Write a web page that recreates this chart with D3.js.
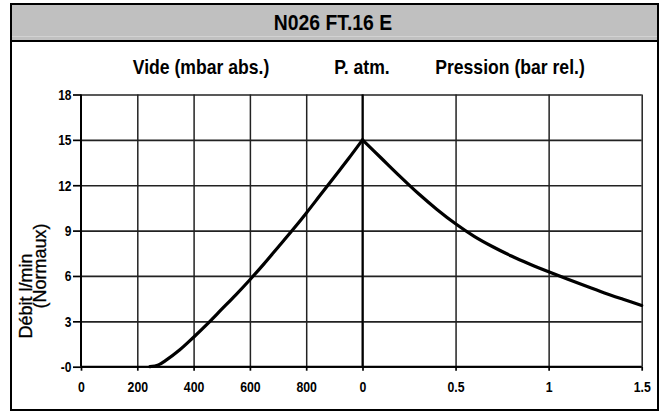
<!DOCTYPE html>
<html><head><meta charset="utf-8">
<script src="https://cdn.jsdelivr.net/npm/d3@7"></script>
<style>
html,body{margin:0;padding:0;background:#fff;}
svg{display:block;}
text{font-family:"Liberation Sans",Arial,sans-serif;}
</style></head><body>
<svg id="c" width="664" height="412"></svg>
<script>
const title = "N026 FT.16 E";
const headVacuum = "Vide (mbar abs.)";
const headAtm = "P. atm.";
const headPressure = "Pression (bar rel.)";
const yLabel1 = "Débit l/min";
const yLabel2 = "(Normaux)";

const vacTicks = [0, 200, 400, 600, 800];
const presTicks = [0, 0.5, 1, 1.5];
const presTickLabels = ["0", "0.5", "1", "1.5"];
const yTicks = [0, 3, 6, 9, 12, 15, 18];
const yTickLabels = ["-0", "3", "6", "9", "12", "15", "18"];

// vacuum side: mbar abs -> flow (Nl/min)
const vacMbar = [245, 275, 300, 350, 400, 450, 500, 550, 600, 650, 700, 750, 800, 850, 900, 950, 1000];
const vacFlow = [0, 0.12, 0.4, 1.1, 1.95, 2.85, 3.8, 4.75, 5.75, 6.8, 7.9, 9.0, 10.15, 11.35, 12.55, 13.75, 15];
// pressure side: bar rel -> flow (Nl/min)
const presBar = [0, 0.1, 0.2, 0.3, 0.4, 0.5, 0.6, 0.7, 0.8, 0.9, 1.0, 1.1, 1.2, 1.3, 1.4, 1.5];
const presFlow = [15, 13.8, 12.6, 11.45, 10.4, 9.45, 8.62, 7.93, 7.32, 6.78, 6.28, 5.8, 5.33, 4.88, 4.46, 4.05];

const svg = d3.select("#c");

function narrowText(x, y, str, size, weight, sx) {
  return svg.append("text")
    .attr("transform", `translate(${x},${y}) scale(${sx},1)`)
    .attr("text-anchor", "middle").attr("font-size", size)
    .attr("font-weight", weight).attr("fill", "#000").text(str);
}

// frame & title bar
svg.append("rect").attr("x", 11).attr("y", 4).attr("width", 647).attr("height", 37)
  .attr("fill", "#c0c0c0");
svg.append("line").attr("x1", 11).attr("x2", 658).attr("y1", 36.5).attr("y2", 36.5)
  .attr("stroke", "#d2d2d2").attr("stroke-width", 1);
svg.append("line").attr("x1", 11).attr("x2", 658).attr("y1", 41).attr("y2", 41)
  .attr("stroke", "#000").attr("stroke-width", 2);
svg.append("rect").attr("x", 11).attr("y", 4).attr("width", 647).attr("height", 406)
  .attr("fill", "none").attr("stroke", "#000").attr("stroke-width", 2);

narrowText(333, 30, title, 22, "bold", 0.88);
narrowText(201, 74, headVacuum, 20, "bold", 0.88);
narrowText(362, 74, headAtm, 20, "bold", 0.88);
narrowText(510, 74, headPressure, 20, "bold", 0.88);

// y label
svg.append("text").attr("transform", "translate(32,296) rotate(-90)").attr("text-anchor", "middle")
  .attr("font-size", 18).attr("fill", "#000").attr("stroke", "#000").attr("stroke-width", 0.3).text(yLabel1);
svg.append("text").attr("transform", "translate(46,266) rotate(-90)").attr("text-anchor", "middle")
  .attr("font-size", 18).attr("fill", "#000").attr("stroke", "#000").attr("stroke-width", 0.3).text(yLabel2);

// scales
const xV = d3.scaleLinear().domain([0, 1000]).range([81, 362.5]);
const xP = d3.scaleLinear().domain([0, 1.5]).range([362.5, 641.7]);
const y = d3.scaleLinear().domain([0, 18]).range([366.7, 94.5]);

// grid
const gridStroke = "#222";
const grid = svg.append("g");
grid.append("g").attr("transform", `translate(${xV(0)},0)`)
  .call(d3.axisLeft(y).tickValues(yTicks).tickSize(-(xP(1.5) - xV(0))).tickFormat(""))
  .call(g => g.select(".domain").remove())
  .call(g => g.selectAll("line").attr("stroke", gridStroke).attr("stroke-width", 1.7));
grid.append("g").attr("transform", `translate(0,${y(0)})`)
  .call(d3.axisBottom(xV).tickValues(vacTicks.slice(1)).tickSize(-(y(0) - y(18))).tickFormat(""))
  .call(g => g.select(".domain").remove())
  .call(g => g.selectAll("line").attr("stroke", gridStroke).attr("stroke-width", 1.5));
grid.append("g").attr("transform", `translate(0,${y(0)})`)
  .call(d3.axisBottom(xP).tickValues(presTicks).tickSize(-(y(0) - y(18))).tickFormat(""))
  .call(g => g.select(".domain").remove())
  .call(g => g.selectAll("line").attr("stroke", gridStroke).attr("stroke-width", 1.5));

// axes
const yAx = svg.append("g").attr("transform", `translate(${xV(0)},0)`)
  .call(d3.axisLeft(y).tickValues(yTicks).tickSize(8).tickPadding(1)
    .tickFormat((d, i) => yTickLabels[i]));
yAx.select(".domain").attr("stroke", "#000").attr("stroke-width", 2).attr("d", `M0,${y(0)}V${y(18)}`);
yAx.selectAll("line").attr("stroke", "#000").attr("stroke-width", 1.7);
yAx.selectAll("text").attr("font-size", 15).attr("font-weight", "bold").attr("fill", "#000")
  .attr("x", -9.5 / 0.8).attr("transform", "scale(0.8,1)");

const xAxV = svg.append("g").attr("transform", `translate(0,${y(0)})`)
  .call(d3.axisBottom(xV).tickValues(vacTicks).tickSize(4).tickPadding(11).tickFormat(d3.format("d")));
xAxV.select(".domain").attr("stroke", "#000").attr("stroke-width", 2).attr("d", `M${xV(0)},0H${xV(1000)}`);
const xAxP = svg.append("g").attr("transform", `translate(0,${y(0)})`)
  .call(d3.axisBottom(xP).tickValues(presTicks).tickSize(4).tickPadding(11)
    .tickFormat((d, i) => presTickLabels[i]));
xAxP.select(".domain").attr("stroke", "#000").attr("stroke-width", 2).attr("d", `M${xP(0)},0H${xP(1.5)}`);
[xAxV, xAxP].forEach(a => {
  a.selectAll("line").attr("stroke", "#000").attr("stroke-width", 1.7);
  a.selectAll("text").attr("font-size", 15).attr("font-weight", "bold").attr("fill", "#000")
    .attr("transform", "scale(0.82,1)");
});
// vertical atm line thicker
svg.append("line").attr("x1", xP(0)).attr("x2", xP(0)).attr("y1", y(0)).attr("y2", y(18))
  .attr("stroke", "#000").attr("stroke-width", 2);

// curves
const line = d3.line().curve(d3.curveCatmullRom.alpha(0.5));
svg.append("path")
  .attr("d", line(vacMbar.map((m, i) => [xV(m), y(vacFlow[i])])))
  .attr("fill", "none").attr("stroke", "#000").attr("stroke-width", 3.2)
  .attr("stroke-linejoin", "round").attr("stroke-linecap", "round");
svg.append("path")
  .attr("d", line(presBar.map((b, i) => [xP(b), y(presFlow[i])])))
  .attr("fill", "none").attr("stroke", "#000").attr("stroke-width", 3.2)
  .attr("stroke-linejoin", "round").attr("stroke-linecap", "round");
</script>
</body></html>
